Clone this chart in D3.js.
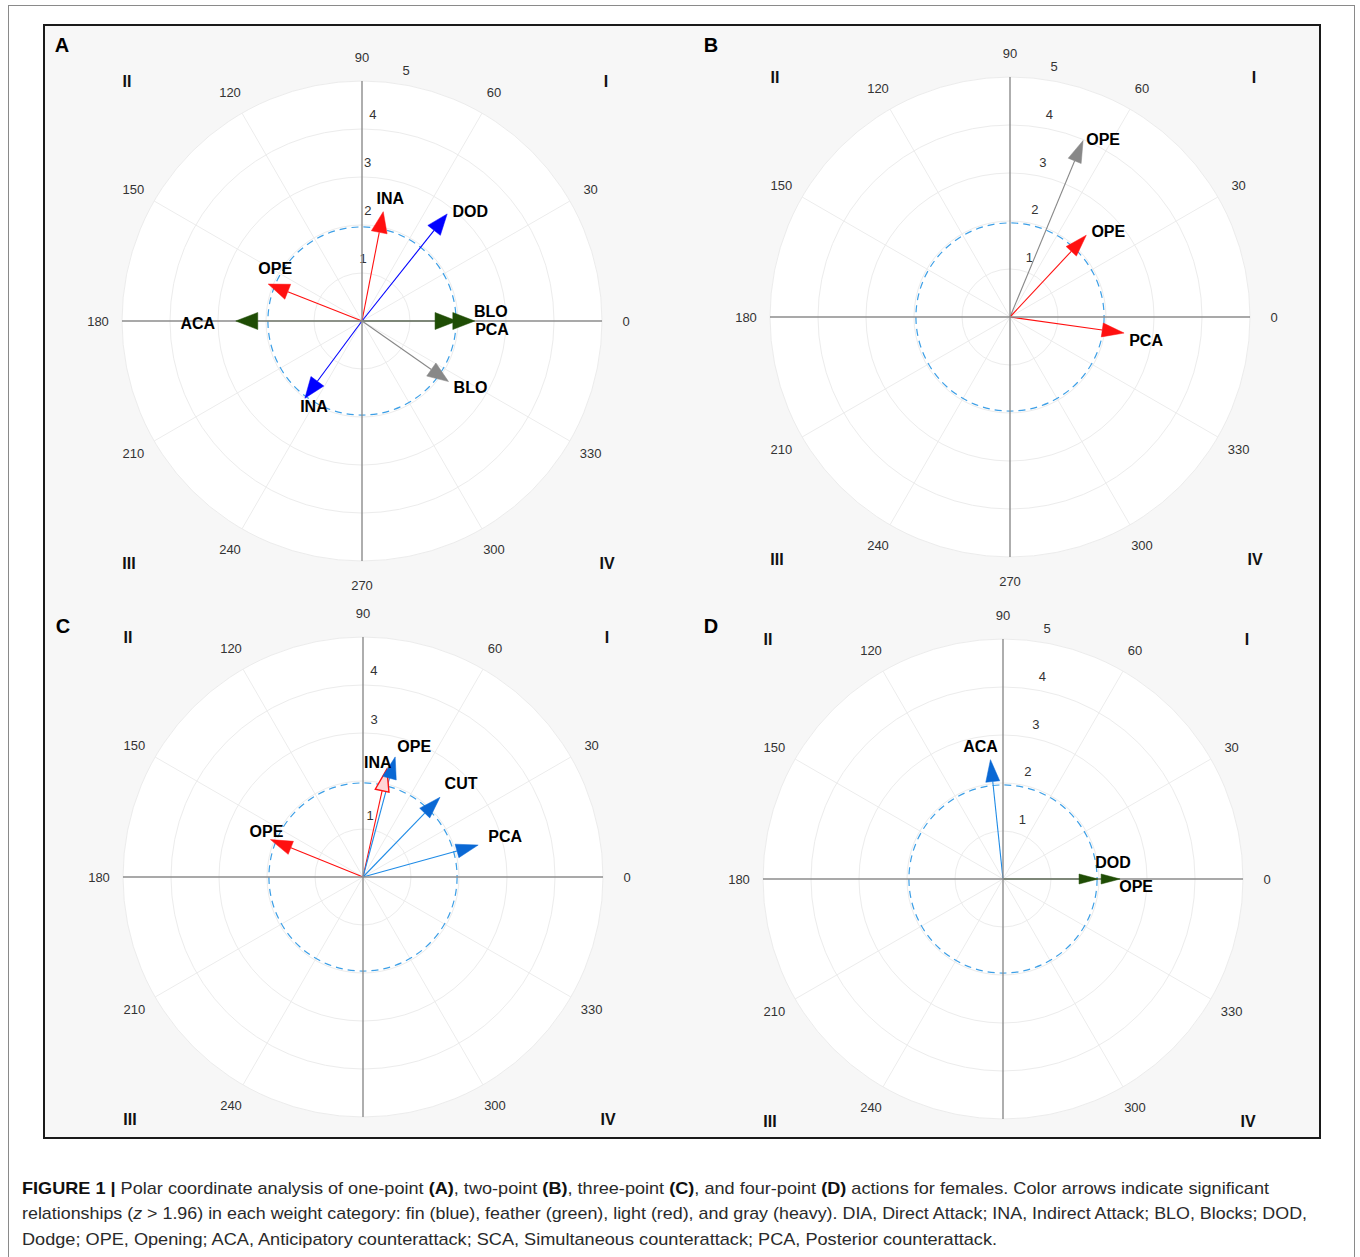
<!DOCTYPE html>
<html><head><meta charset="utf-8">
<script src="https://cdn.jsdelivr.net/npm/d3@7"></script>
<style>body{margin:0;background:#fff}svg{display:block}</style>
</head><body>
<script>
// ---------------- DATA ----------------
const panelNames = ["A","B","C","D"];
const angleTicks = [0,30,60,90,120,150,180,210,240,270,300,330];
const ringValues = [1,2,3,4,5];
const significanceZ = 1.96;
const quadrantLabels = ["I","II","III","IV"];

const arrowsA_labels = ["INA","DOD","OPE","ACA","BLO","PCA","BLO","INA"];
const arrowsA_category = ["light","fin","light","feather","feather","feather","heavy","fin"];
const arrowsA_radius = [2.32,2.85,2.1,2.63,2.35,1.98,2.2,2.0];
const arrowsA_angle = [79,51.5,158.5,180,0,0,325,233.5];

const arrowsB_labels = ["OPE","OPE","PCA"];
const arrowsB_category = ["heavy","light","light"];
const arrowsB_radius = [3.98,2.33,2.4];
const arrowsB_angle = [67.5,47,352];

const arrowsC_labels = ["OPE","INA","OPE","CUT","PCA"];
const arrowsC_category = ["light","light","fin","fin","fin"];
const arrowsC_radius = [2.08,2.3,2.59,2.31,2.49];
const arrowsC_angle = [158,77.5,75,46,15.5];

const arrowsD_labels = ["ACA","DOD","OPE"];
const arrowsD_category = ["fin","feather","feather"];
const arrowsD_radius = [2.5,1.98,2.44];
const arrowsD_angle = [96,0,0];

// ring tick labels shown per panel
const ringLabelsA = [1,2,3,4,5];
const ringLabelsB = [1,2,3,4,5];
const ringLabelsC = [1,3,4];
const ringLabelsD = [1,2,3,4,5];

const captionLines = [
  [["FIGURE 1 | ","b"],["Polar coordinate analysis of one-point ",""],["(A)","b"],[", two-point ",""],["(B)","b"],[", three-point ",""],["(C)","b"],[", and four-point ",""],["(D)","b"],[" actions for females. Color arrows indicate significant",""]],
  [["relationships (",""],["z","i"],[" > 1.96) in each weight category: fin (blue), feather (green), light (red), and gray (heavy). DIA, Direct Attack; INA, Indirect Attack; BLO, Blocks; DOD,",""]],
  [["Dodge; OPE, Opening; ACA, Anticipatory counterattack; SCA, Simultaneous counterattack; PCA, Posterior counterattack.",""]]
];

// ---------------- LAYOUT / STYLE ----------------
const W = 1360, H = 1257;
const layout = {
  A:{cx:362, cy:321, letter:[62,45], ringAngles:[89,87,88,87,80], head:[21,8], rings:ringLabelsA,
     labelOff:[[7,-13],[23,-2],[7,-16],[-38,2],[16,-10],[35,8],[22,6],[9,8]]},
  B:{cx:1010, cy:317, letter:[711,45], ringAngles:[72,77,78,79,80], head:[22,7], rings:ringLabelsB,
     labelOff:[[20,-1],[22,-4],[22,7]]},
  C:{cx:363, cy:877, letter:[63,626], ringAngles:[83.5,86,86,87,87], head:[22,7], rings:ringLabelsC,
     labelOff:[[-4,-8],[-9,-7],[19,-10],[21,-14],[27,-9]]},
  D:{cx:1003, cy:879, letter:[711,626], ringAngles:[72,77,78,79,80], head:[19,5], rings:ringLabelsD,
     labelOff:[[-10,-13],[15,-17],[16,7]]}
};
const colorsDefault = {fin:"#0000ff", feather:"#1f4d05", light:"#ff1010", heavy:"#888888"};
const colorsCD = {fin:"#1f8be6", feather:"#1f4d05", light:"#ff1010", heavy:"#888888"};
const headColorsCD = {fin:"#0a68d4", feather:"#1f4d05", light:"#ff1010", heavy:"#888888"};

const arrowData = {
  A:{labels:arrowsA_labels, cat:arrowsA_category, r:arrowsA_radius, a:arrowsA_angle},
  B:{labels:arrowsB_labels, cat:arrowsB_category, r:arrowsB_radius, a:arrowsB_angle},
  C:{labels:arrowsC_labels, cat:arrowsC_category, r:arrowsC_radius, a:arrowsC_angle},
  D:{labels:arrowsD_labels, cat:arrowsD_category, r:arrowsD_radius, a:arrowsD_angle}
};

const rScale = d3.scaleLinear().domain([0,5]).range([0,240]);
const R = rScale(5);
const font = "Liberation Sans, Arial, Helvetica, sans-serif";

const svg = d3.select("body").append("svg").attr("width",W).attr("height",H)
  .style("font-family",font);

svg.append("rect").attr("x",0).attr("y",0).attr("width",W).attr("height",H).attr("fill","#fff");
// outer thin frame
svg.append("rect").attr("x",8.5).attr("y",5.5).attr("width",1346).attr("height",1260)
  .attr("fill","none").attr("stroke","#8a8a8a").attr("stroke-width",1);

const box = {x:44, y:25, w:1276, h:1113};
svg.append("defs").append("clipPath").attr("id","boxclip")
  .append("rect").attr("x",box.x+1).attr("y",box.y+1).attr("width",box.w-2).attr("height",box.h-2);
svg.append("rect").attr("x",box.x).attr("y",box.y).attr("width",box.w).attr("height",box.h)
  .attr("fill","#f7f7f7");

const content = svg.append("g").attr("clip-path","url(#boxclip)");

function pol(r, deg){ const t = deg*Math.PI/180; return [r*Math.cos(t), -r*Math.sin(t)]; }

panelNames.forEach(p => {
  const L = layout[p];
  const g = content.append("g").attr("transform",`translate(${L.cx},${L.cy})`);
  // disc
  g.append("circle").attr("r",R).attr("fill","#fff");
  // rings
  g.selectAll("circle.ring").data(ringValues).join("circle").attr("class","ring")
    .attr("r",d=>rScale(d)).attr("fill","none").attr("stroke","#ececec").attr("stroke-width",1);
  // spokes
  g.selectAll("line.spoke").data(angleTicks.filter(a=>a%90!==0)).join("line").attr("class","spoke")
    .attr("x1",0).attr("y1",0)
    .attr("x2",d=>pol(R,d)[0]).attr("y2",d=>pol(R,d)[1])
    .attr("stroke","#ececec").attr("stroke-width",1);
  // significance circle
  g.append("circle").attr("r",rScale(significanceZ)).attr("fill","none")
    .attr("stroke","#3d9fe6").attr("stroke-width",1.2).attr("stroke-dasharray","7,5");
  // angle labels
  g.selectAll("text.ang").data(angleTicks).join("text").attr("class","ang")
    .attr("x",d=>pol(R+24,d)[0]).attr("y",d=>pol(R+24,d)[1])
    .attr("text-anchor","middle").attr("dominant-baseline","central")
    .attr("font-size",13).attr("fill","#333").text(d=>d);
  // ring labels
  g.selectAll("text.rl").data(L.rings).join("text").attr("class","rl")
    .attr("x",d=>pol(rScale(d+0.3), L.ringAngles[d-1])[0])
    .attr("y",d=>pol(rScale(d+0.3), L.ringAngles[d-1])[1])
    .attr("text-anchor","middle").attr("dominant-baseline","central")
    .attr("font-size",13).attr("fill","#333").text(d=>d);
  // quadrant labels
  const qpos = [[244,-240],[-235,-240],[-233,242],[245,242]];
  g.selectAll("text.q").data(quadrantLabels).join("text").attr("class","q")
    .attr("x",(d,i)=>qpos[i][0]).attr("y",(d,i)=>qpos[i][1])
    .attr("text-anchor","middle").attr("dominant-baseline","central")
    .attr("font-size",16).attr("font-weight","bold").attr("fill","#111")
    .attr("font-family","Liberation Sans Narrow, Liberation Sans, Arial")
    .text(d=>d);

  // arrows
  const D = arrowData[p];
  const cols = (p==="C"||p==="D") ? colorsCD : colorsDefault;
  const hcols = (p==="C"||p==="D") ? headColorsCD : colorsDefault;
  const [hl0, hw0] = L.head;
  const items = D.labels.map((lab,i)=>({lab, cat:D.cat[i], r:D.r[i], a:D.a[i], off:L.labelOff[i]}));
  const lineG = g.append("g"), axisG = g.append("g"), headG = g.append("g"), textG = g.append("g");
  items.forEach(it => {
    let hl = hl0, hw = hw0;
    if (p==="D" && it.cat==="fin") { hl = 22; hw = 7; }
    if (p==="A" && it.cat==="feather") { hl = 22; hw = 8.5; }
    const len = rScale(it.r);
    const [tx,ty] = pol(len, it.a);
    const [bx,by] = pol(len-hl, it.a);
    const [px,py] = pol(hw, it.a+90);
    lineG.append("line").attr("x1",0).attr("y1",0).attr("x2",bx).attr("y2",by)
      .attr("stroke",cols[it.cat]).attr("stroke-width",1.1);
    const hollow = (p==="C" && it.lab==="INA");
    headG.append("polygon")
      .attr("points",[[tx,ty],[bx+px,by+py],[bx-px,by-py]].map(q=>q.join(",")).join(" "))
      .attr("fill", hollow ? "#ffd6d6" : hcols[it.cat])
      .attr("stroke", hcols[it.cat]).attr("stroke-width", hollow?1.4:0.5);
  });
  // main axes (drawn over arrow shafts)
  axisG.selectAll("line.axis").data([0,90,180,270]).join("line").attr("class","axis")
    .attr("x1",0).attr("y1",0)
    .attr("x2",d=>pol(R,d)[0]).attr("y2",d=>pol(R,d)[1])
    .attr("stroke","#8c8c8c").attr("stroke-width",1.4);
  items.forEach(it => {
    const [tx,ty] = pol(rScale(it.r), it.a);
    textG.append("text").attr("x",tx+it.off[0]).attr("y",ty+it.off[1])
      .attr("text-anchor","middle").attr("dominant-baseline","central")
      .attr("font-size",16).attr("font-weight","bold").attr("fill","#000").text(it.lab);
  });
  // panel letter
  content.append("text").attr("x",L.letter[0]).attr("y",L.letter[1])
    .attr("text-anchor","middle").attr("dominant-baseline","central")
    .attr("font-size",20).attr("font-weight","bold").attr("fill","#000").text(p);
});

// inner thick frame
svg.append("rect").attr("x",box.x).attr("y",box.y).attr("width",box.w).attr("height",box.h)
  .attr("fill","none").attr("stroke","#1a1a1a").attr("stroke-width",2);

// caption
const capBase = [1194,1219,1245];
const capWidths = [1247,1285,975];
captionLines.forEach((line,i)=>{
  const t = svg.append("text").attr("x",22).attr("y",capBase[i])
    .attr("font-size",17).attr("fill","#2a2a2a")
    .attr("textLength",capWidths[i]).attr("lengthAdjust","spacingAndGlyphs");
  line.forEach(([s,st])=>{
    const ts = t.append("tspan").text(s);
    if (st==="b") ts.attr("font-weight","bold").attr("fill","#111");
    if (st==="i") ts.attr("font-style","italic");
  });
});
</script>
</body></html>
